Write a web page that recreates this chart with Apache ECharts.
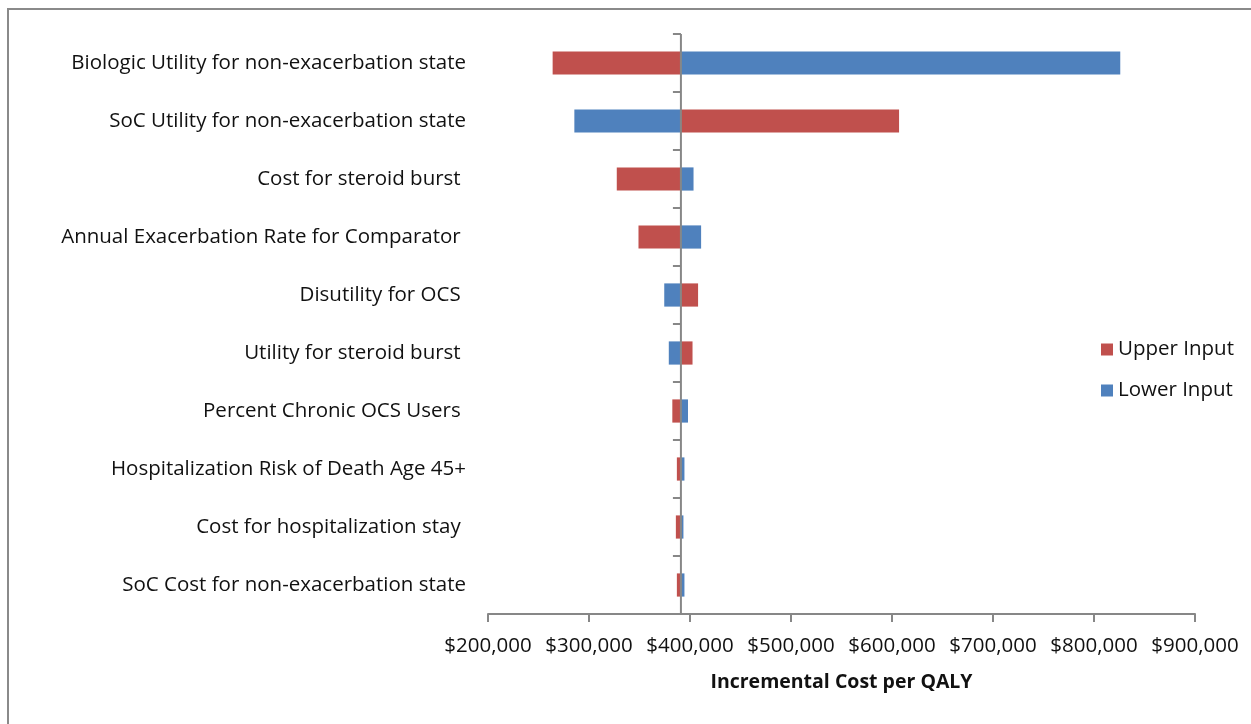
<!DOCTYPE html>
<html>
<head>
<meta charset="utf-8">
<script src="https://cdn.jsdelivr.net/npm/echarts@6/dist/echarts.min.js"></script>
<style>
  html, body { margin: 0; padding: 0; background: #fff; }
  #chart { position: absolute; left: 0; top: 0; width: 1251px; height: 724px; }
  #frame { position: absolute; left: 7px; top: 8px; width: 1300px; height: 800px;
           border-left: 2px solid #8a8a8a; border-top: 2px solid #8a8a8a; pointer-events: none; }
</style>
</head>
<body>
<div id="chart"></div>
<div id="frame"></div>
<script>
const categories = [
  "Biologic Utility for non-exacerbation state",
  "SoC Utility for non-exacerbation state",
  "Cost for steroid burst ",
  "Annual Exacerbation Rate for Comparator ",
  "Disutility for OCS ",
  "Utility for steroid burst ",
  "Percent Chronic OCS Users ",
  "Hospitalization Risk of Death Age 45+",
  "Cost for hospitalization stay ",
  "SoC Cost for non-exacerbation state"
];
const baseValue = 391000;
const upperInput = [264000, 607000, 327500, 349000, 408000, 402500, 382500, 387000, 386000, 387000];
const lowerInput = [826000, 285500, 403500, 411000, 374500, 379000, 398000, 394500, 393500, 394500];
const xTicks = { min: 200000, max: 900000, interval: 100000 };

const FONT = '"Open Sans", "Noto Sans", sans-serif';
const FS = 20.5;

function barRender(params, api) {
  const idx = api.value(0);
  const val = api.value(1);
  const p0 = api.coord([baseValue, idx]);
  const p1 = api.coord([val, idx]);
  const band = api.size([0, 1])[1];
  const h = band * 0.4;
  const x = Math.min(p0[0], p1[0]);
  const w = Math.abs(p1[0] - p0[0]);
  return {
    type: 'rect',
    shape: { x: x, y: p0[1] - h / 2, width: w, height: h },
    style: { fill: api.visual('color') }
  };
}

function baseRender(params, api) {
  const idx = api.value(0);
  const c = api.coord([baseValue, idx]);
  const band = api.size([0, 1])[1];
  const top = c[1] - band / 2, bot = c[1] + band / 2;
  return {
    type: 'group',
    children: [
      { type: 'line', shape: { x1: c[0], y1: top, x2: c[0], y2: bot },
        style: { stroke: '#878787', lineWidth: 2 } },
      { type: 'line', shape: { x1: c[0] - 8, y1: top, x2: c[0], y2: top },
        style: { stroke: '#878787', lineWidth: 2 } }
    ]
  };
}

const chart = echarts.init(document.getElementById('chart'));
chart.setOption({
  animation: false,
  backgroundColor: '#fff',
  grid: { left: 488, right: 56, top: 34, bottom: 110, containLabel: false },
  legend: {
    data: ['Upper Input', 'Lower Input'],
    orient: 'vertical',
    left: 1096, top: 334,
    itemWidth: 12, itemHeight: 12, itemGap: 20,
    icon: 'rect',
    textStyle: { fontFamily: FONT, fontSize: FS, color: '#111' }
  },
  xAxis: {
    type: 'value',
    min: xTicks.min, max: xTicks.max, interval: xTicks.interval,
    axisLine: { show: true, lineStyle: { color: '#878787', width: 2 } },
    axisTick: { show: true, length: 8, lineStyle: { color: '#878787', width: 2 } },
    splitLine: { show: false },
    axisLabel: {
      margin: 22, fontFamily: FONT, fontSize: FS, color: '#111',
      formatter: v => '$' + v.toLocaleString('en-US')
    },
    name: 'Incremental Cost per QALY',
    nameLocation: 'middle', nameGap: 58,
    nameTextStyle: { fontFamily: FONT, fontSize: 19.5, fontWeight: 'bold', color: '#111' }
  },
  yAxis: {
    type: 'category', data: categories, inverse: true,
    axisLine: { show: false }, axisTick: { show: false }, splitLine: { show: false },
    axisLabel: { margin: 22, fontFamily: FONT, fontSize: FS, color: '#111' }
  },
  series: [
    { name: 'Upper Input', type: 'custom', renderItem: barRender,
      itemStyle: { color: '#C0504D' },
      encode: { x: 1, y: 0 },
      data: upperInput.map((v, i) => [i, v]), z: 2 },
    { name: 'Lower Input', type: 'custom', renderItem: barRender,
      itemStyle: { color: '#4F81BD' },
      encode: { x: 1, y: 0 },
      data: lowerInput.map((v, i) => [i, v]), z: 2 },
    { name: 'base', type: 'custom', renderItem: baseRender, silent: true,
      encode: { x: 1, y: 0 },
      data: categories.map((c, i) => [i, baseValue]), z: 5 }
  ]
});
</script>
</body>
</html>
